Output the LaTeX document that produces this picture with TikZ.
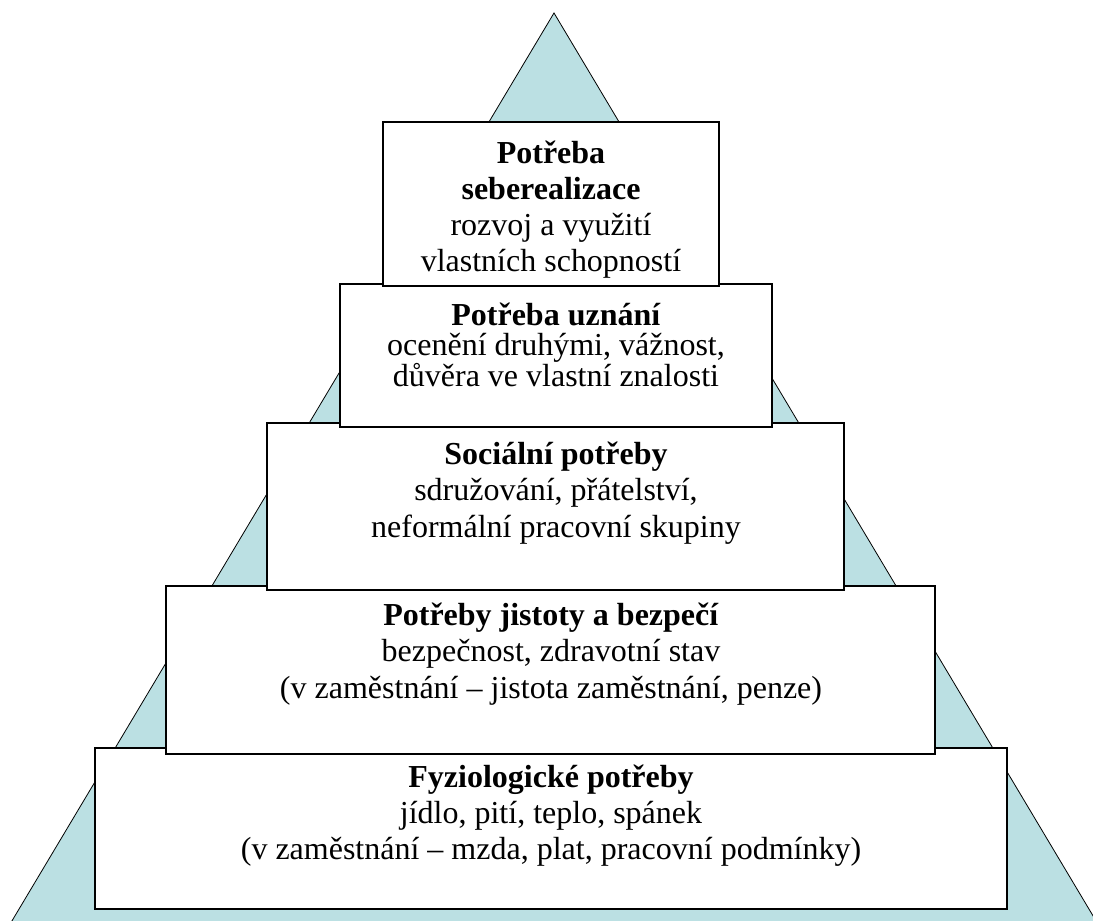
\documentclass[tikz,border=0pt]{standalone}
\usepackage{fontspec}
\setmainfont{Liberation Serif}
\definecolor{pyr}{RGB}{187,224,227}
\tikzset{
  tier/.style={draw=black, line width=1.6pt, fill=white, rectangle, inner sep=0pt},
  label/.style={anchor=north, align=center, inner sep=0pt, text=black},
}
\newcommand{\fs}[1]{\fontsize{32}{#1}\selectfont}
\newcommand{\st}{\rule{0pt}{27pt}}
\begin{document}
\begin{tikzpicture}[x=1pt, y=-1pt]
\useasboundingbox (0,0) rectangle (1093,921);
\clip (0,0) rectangle (1093,921);
\coordinate (apex) at (554,13);
\coordinate (bl) at (9.5,925);
\coordinate (br) at (1098.5,925);
\draw[fill=pyr, draw=black, line width=0.8pt] (apex) -- (bl) -- (br) -- cycle;
% tier 5
\node[tier, minimum width=912pt, minimum height=161pt] (b5) at (551,828.5) {};
\node[label, font=\fs{36}] (t5) at (551,760) {\st\textbf{Fyziologické potřeby}\\jídlo, pití, teplo, spánek\\(v zaměstnání -- mzda, plat, pracovní podmínky)};
% tier 4
\node[tier, minimum width=769pt, minimum height=168pt] (b4) at (550.5,670) {};
\node[label, font=\fs{36.5}] (t4) at (551,598) {\st\textbf{Potřeby jistoty a bezpečí}\\bezpečnost, zdravotní stav\\(v zaměstnání -- jistota zaměstnání, penze)};
% tier 3
\node[tier, minimum width=577pt, minimum height=167pt] (b3) at (555.5,506.5) {};
\node[label, font=\fs{36.5}] (t3) at (556,437) {\st\textbf{Sociální potřeby}\\sdružování, přátelství,\\neformální pracovní skupiny};
% tier 2
\node[tier, minimum width=432pt, minimum height=143pt] (b2) at (556,355.5) {};
\node[label, font=\fs{30.5}] (t2) at (556,298) {\st\textbf{Potřeba uznání}\\ocenění druhými, vážnost,\\důvěra ve vlastní znalosti};
% tier 1
\node[tier, minimum width=336pt, minimum height=164pt] (b1) at (551,204) {};
\node[label, font=\fs{36}] (t1) at (551,136) {\st\textbf{Potřeba}\\\textbf{seberealizace}\\rozvoj a využití\\vlastních schopností};
\end{tikzpicture}
\end{document}
